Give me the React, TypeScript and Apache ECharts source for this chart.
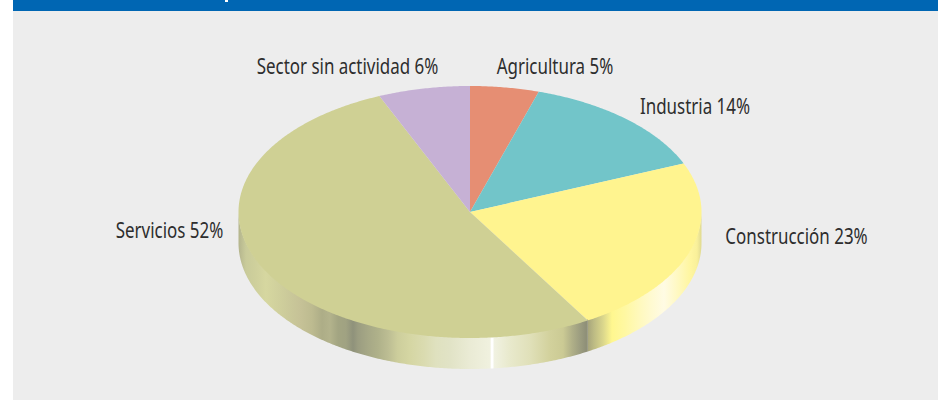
import React, { useEffect, useRef } from "react";
import * as echarts from "echarts";

const categories = ["Agricultura", "Industria", "Construcción", "Servicios", "Sector sin actividad"];
const shares = [4.8, 13.9, 22.8, 52.1, 6.4];

const topColors = ["#E68E73", "#72C5C9", "#FFF48F", "#CFD094", "#C6B1D5"];
const FONT = '"Noto Sans", sans-serif';
const TEXT_SCALE_X = 0.77;

// Text anchors (centre of each label), hand-placed as in the source picture
const labelCentres: [number, number][] = [
  [555, 66],
  [695, 106],
  [796.5, 236],
  [169.5, 230],
  [347.5, 66],
];

const CX = 470;
const CY = 212;
const RX = 231.5;
const RY = 126;
const DEPTH = 31;

const rimOlive: [number, string][] = [
  [239, "#B5B68E"], [246, "#C9CB9A"], [256, "#CFD09C"], [266, "#D6D7A0"], [280, "#CFCF9C"], [292, "#C9C799"],
  [300, "#C6C297"], [312, "#BDBB90"], [322, "#ADAD87"], [330, "#B3B38C"], [338, "#A3A582"], [346, "#A0A282"],
  [353, "#8F927B"], [358, "#9B9D81"], [368, "#A6A886"], [378, "#AFB18A"], [388, "#BCBD93"], [398, "#CDCE9C"],
  [410, "#D5D6A3"], [424, "#DADBB0"], [436, "#DFE1BF"], [450, "#E1E3C6"], [470, "#EAEBD5"], [490, "#F0F1DF"],
  [491.5, "#FFFFFF"], [493, "#FFFFFF"], [494, "#F1F2E2"], [510, "#E8E9CC"], [530, "#E0E0B9"], [550, "#D2D19C"],
  [563, "#CBCA94"], [572, "#B0B088"], [580, "#9C9D80"], [586, "#8F9078"], [588, "#8F9078"],
];
const rimYellow: [number, string][] = [
  [588, "#A8A67C"], [594, "#BDBB84"], [603, "#DAD68C"], [612, "#FFF78F"], [625, "#FFF8A2"], [640, "#FFF9BE"],
  [652, "#FFFAD2"], [664, "#FFFBE4"], [676, "#FFF9C6"], [690, "#FFF6A0"], [697, "#F9F09A"], [701, "#E2DC92"],
];
const rimStops: ([number, string][] | null)[] = [null, null, rimYellow, rimOlive, null];

function gradient(stops: [number, string][]) {
  const span = 2 * RX;
  const x0 = CX - RX;
  return new echarts.graphic.LinearGradient(
    x0, 0, x0 + span, 0,
    stops.map(([x, color]) => ({ offset: Math.min(1, Math.max(0, (x - x0) / span)), color })),
    true
  );
}

function onEllipse(deg: number, dy = 0): [number, number] {
  const a = (deg * Math.PI) / 180;
  return [CX + RX * Math.sin(a), CY - RY * Math.cos(a) + dy];
}

function renderItem(params: any, api: any) {
  const i = params.dataIndex;
  const total = shares.reduce((s, v) => s + v, 0);
  const before = shares.slice(0, i).reduce((s, v) => s + v, 0);
  const start = (before / total) * 360;
  const end = ((before + api.value(0)) / total) * 360;

  const top: [number, number][] = [[CX, CY]];
  for (let d = start; d < end; d += 0.5) top.push(onEllipse(d));
  top.push(onEllipse(end));

  const children: any[] = [];
  const stops = rimStops[i];
  const rimStart = Math.max(start, 90);
  const rimEnd = Math.min(end, 270);
  if (stops && rimEnd > rimStart) {
    const upper: [number, number][] = [];
    const lower: [number, number][] = [];
    for (let d = rimStart; d < rimEnd; d += 0.5) {
      upper.push(onEllipse(d, -1));
      lower.push(onEllipse(d, DEPTH));
    }
    upper.push(onEllipse(rimEnd, -1));
    lower.push(onEllipse(rimEnd, DEPTH));
    children.push({
      type: "polygon",
      shape: { points: upper.concat(lower.reverse()) },
      style: { fill: gradient(stops) },
    });
  }
  children.push({ type: "polygon", shape: { points: top }, style: { fill: topColors[i] } });
  const [lx, ly] = labelCentres[i];
  children.push({
    type: "text",
    x: lx,
    y: ly,
    scaleX: TEXT_SCALE_X,
    style: {
      text: `${categories[i]} ${Math.round(api.value(0))}%`,
      fill: "#2E2E2E",
      font: `22px ${FONT}`,
      align: "center",
      verticalAlign: "middle",
    },
  });
  return { type: "group", children };
}

export default function App() {
  const ref = useRef<HTMLDivElement>(null);
  useEffect(() => {
    document.body.style.margin = "0";
    const chart = echarts.init(ref.current!, undefined, { renderer: "svg" });
    chart.setOption({
      animation: false,
      graphic: [
        { type: "rect", shape: { x: 0, y: 0, width: 938, height: 400 }, style: { fill: "#FFFFFF" } },
        { type: "rect", shape: { x: 13, y: 11, width: 925, height: 389 }, style: { fill: "#EDEDED" } },
        { type: "rect", shape: { x: 13, y: 0, width: 925, height: 11 }, style: { fill: "#0066B3" } },
        { type: "rect", shape: { x: 225, y: 0, width: 3, height: 2 }, style: { fill: "#FFFFFF" } },
      ],
      series: [
        {
          type: "custom",
          coordinateSystem: "none",
          renderItem,
          data: categories.map((name, i) => ({ name, value: [shares[i]] })),
          z: 5,
        },
      ],
    });
    return () => chart.dispose();
  }, []);
  return <div ref={ref} style={{ width: 938, height: 400 }} />;
}
